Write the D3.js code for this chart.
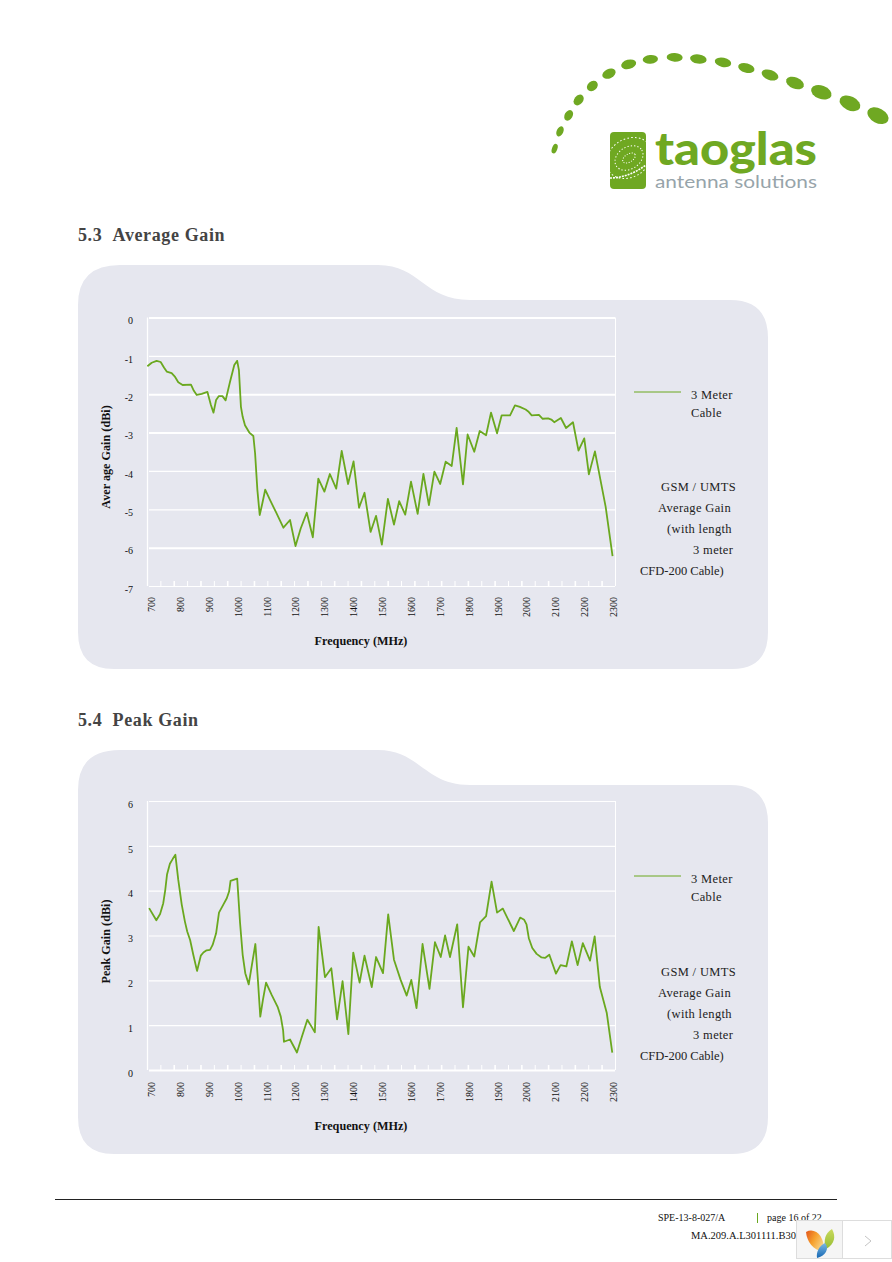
<!DOCTYPE html>
<html>
<head>
<meta charset="utf-8">
<title>Average and Peak Gain</title>
<script src="https://cdnjs.cloudflare.com/ajax/libs/d3/7.8.5/d3.min.js"></script>
<style>
    html, body { margin: 0; padding: 0; background: #fff; }
    svg { display: block; }
    text { font-family: "Liberation Serif", serif; fill: #111; }
    .tick text { font-size: 10px; }
    .legend text { font-size: 12.5px; letter-spacing: .35px; fill: #222; }
    .axis-title { font-size: 12.2px; font-weight: bold; }
    .heading { font-size: 18px; font-weight: bold; fill: #444; letter-spacing: .62px; }
    .foot { font-size: 10px; fill: #111; }
</style>
</head>
<body>
<script>
// x labels, same for both charts
var freqLabels = [700, 800, 900, 1000, 1100, 1200, 1300, 1400, 1500, 1600, 1700, 1800, 1900, 2000, 2100, 2200, 2300];
var avgTicks = [0, -1, -2, -3, -4, -5, -6, -7];
var peakTicks = [0, 1, 2, 3, 4, 5, 6];

// average gain
var avgFreq = [684, 699, 716, 730, 742, 751, 768, 780, 791, 806, 835, 845, 855, 872, 892, 904, 913, 922, 931, 944, 955, 970, 985, 995, 1001, 1008, 1014, 1022, 1037, 1051, 1057, 1065, 1073, 1082, 1092, 1109, 1129, 1155, 1178, 1197, 1215, 1236, 1257, 1276, 1297, 1316, 1338, 1357, 1379, 1398, 1417, 1436, 1457, 1476, 1496, 1517, 1538, 1556, 1577, 1597, 1620, 1640, 1659, 1678, 1698, 1717, 1738, 1755, 1777, 1793, 1816, 1835, 1857, 1874, 1895, 1911, 1940, 1957, 1974, 1994, 2003, 2015, 2040, 2053, 2072, 2083, 2093, 2116, 2134, 2158, 2177, 2197, 2213, 2234, 2271, 2295];
var avgGain = [-1.27, -1.18, -1.13, -1.16, -1.31, -1.41, -1.45, -1.55, -1.69, -1.76, -1.75, -1.91, -2.02, -1.99, -1.94, -2.28, -2.48, -2.15, -2.05, -2.05, -2.16, -1.68, -1.24, -1.13, -1.37, -2.33, -2.59, -2.81, -3.00, -3.09, -3.54, -4.50, -5.15, -4.85, -4.49, -4.76, -5.07, -5.48, -5.28, -5.96, -5.50, -5.09, -5.73, -4.20, -4.54, -4.08, -4.46, -3.48, -4.34, -3.75, -4.96, -4.57, -5.59, -5.17, -5.92, -4.73, -5.40, -4.79, -5.14, -4.28, -5.12, -4.08, -4.89, -4.02, -4.34, -3.76, -3.87, -2.88, -4.35, -3.05, -3.50, -2.96, -3.07, -2.48, -3.02, -2.55, -2.55, -2.29, -2.33, -2.40, -2.45, -2.55, -2.54, -2.64, -2.63, -2.66, -2.73, -2.62, -2.88, -2.73, -3.47, -3.15, -4.09, -3.49, -4.93, -6.22];

// peak gain
var peakFreq = [690, 715, 728, 739, 746, 752, 762, 772, 781, 791, 803, 814, 822, 832, 843, 856, 869, 878, 889, 901, 910, 922, 932, 947, 959, 967, 972, 995, 1005, 1014, 1023, 1035, 1049, 1058, 1066, 1075, 1084, 1095, 1114, 1135, 1146, 1154, 1157, 1178, 1202, 1219, 1238, 1254, 1264, 1277, 1299, 1321, 1341, 1360, 1380, 1397, 1419, 1436, 1461, 1476, 1500, 1518, 1538, 1561, 1582, 1598, 1616, 1637, 1661, 1680, 1700, 1715, 1732, 1757, 1777, 1796, 1816, 1836, 1857, 1876, 1895, 1915, 1953, 1975, 1989, 1997, 2005, 2017, 2032, 2049, 2061, 2076, 2099, 2115, 2135, 2154, 2174, 2192, 2217, 2233, 2251, 2275, 2294];
var peakGain = [3.61, 3.34, 3.48, 3.72, 4.02, 4.36, 4.60, 4.71, 4.80, 4.24, 3.69, 3.31, 3.09, 2.90, 2.57, 2.21, 2.55, 2.62, 2.67, 2.68, 2.79, 3.05, 3.51, 3.69, 3.83, 3.98, 4.22, 4.27, 3.28, 2.57, 2.16, 1.91, 2.46, 2.81, 2.08, 1.19, 1.56, 1.95, 1.68, 1.41, 1.19, 0.89, 0.63, 0.68, 0.39, 0.74, 1.12, 0.95, 0.84, 3.19, 2.07, 2.27, 1.13, 1.98, 0.80, 2.62, 1.95, 2.55, 1.85, 2.52, 2.16, 3.47, 2.46, 2.01, 1.66, 2.01, 1.38, 2.81, 1.81, 2.85, 2.52, 3.00, 2.52, 3.25, 1.40, 2.75, 2.53, 3.29, 3.43, 4.20, 3.51, 3.60, 3.10, 3.40, 3.35, 3.25, 2.94, 2.72, 2.59, 2.51, 2.50, 2.57, 2.15, 2.34, 2.31, 2.87, 2.34, 2.83, 2.44, 2.98, 1.85, 1.27, 0.39];

var legendNote = ["GSM / UMTS", "Average Gain", "(with length", "3 meter", "CFD-200 Cable)"];

var green = "#6aa81f";
var panelFill = "#e6e7ef";

var svg = d3.select("body").append("svg")
    .attr("width", 892)
    .attr("height", 1262);

var defs = svg.append("defs");

function grad(id, stops, x2, y2) {
    var g = defs.append("linearGradient").attr("id", id)
        .attr("x1", 0).attr("y1", 0).attr("x2", x2).attr("y2", y2);
    stops.forEach(function (s, i) {
        g.append("stop").attr("offset", i / (stops.length - 1)).attr("stop-color", s);
    });
}
grad("petalOrange", ["#e2551c", "#f6a02c", "#f8d58a"], 1, 0.6);
grad("petalGreen", ["#c9d95c", "#96bd34"], 0, 1);
grad("petalBlue", ["#7cb8e4", "#1668b4"], 0, 1);

// ---- logo
var logoDots = [[44, 326, 8, 15, 20], [60, 274, 10, 16, 25], [86, 226, 12, 17, 30], [116, 180, 13, 18, 40],
    [157, 138, 18, 14, -40], [207, 101, 21, 14, -25], [266, 73, 23, 14, -15], [331, 58, 23, 13, -5],
    [404, 52, 24, 13, 3], [475, 57, 25, 14, 8], [549, 67, 25, 14, 12], [619, 84, 25, 14, 15],
    [690, 105, 26, 15, 20], [765, 129, 28, 17, 22], [844, 157, 32, 20, 20], [930, 190, 33, 21, 25], [1014, 227, 34, 22, 28]];

var logo = svg.append("g").attr("class", "logo");
logo.selectAll("ellipse.dot")
    .data(logoDots)
    .enter().append("ellipse")
    .attr("class", "dot")
    .attr("rx", function (d) { return d[2] / 3; })
    .attr("ry", function (d) { return d[3] / 3; })
    .attr("transform", function (d) { return "translate(" + (540 + d[0] / 3) + "," + (40 + d[1] / 3) + ") rotate(" + d[4] + ")"; })
    .attr("fill", "#6fa822");

logo.append("rect").attr("x", 610).attr("y", 132).attr("width", 36).attr("height", 57).attr("rx", 4).attr("fill", "#6fa822");
[[24, 19, "1.6 2.2"], [15, 11, "1.3 2"], [7, 4, "1 1.6"]].forEach(function (e) {
    logo.append("ellipse")
        .attr("transform", "translate(629,158) rotate(-32)")
        .attr("rx", e[0]).attr("ry", e[1])
        .attr("fill", "none").attr("stroke", "#fff").attr("stroke-width", 1).attr("stroke-dasharray", e[2]);
});
logo.append("path").attr("d", "M610,178 Q628,178 646,165")
    .attr("fill", "none").attr("stroke", "#fff").attr("stroke-width", 1.6).attr("stroke-dasharray", "2 1");
logo.append("text").attr("x", 655).attr("y", 165)
    .attr("textLength", 162).attr("lengthAdjust", "spacingAndGlyphs")
    .style("font-family", "Lato, sans-serif").style("font-weight", 900).style("font-size", "45px").style("fill", "#6fa822")
    .text("taoglas");
logo.append("text").attr("x", 655).attr("y", 188)
    .attr("textLength", 162).attr("lengthAdjust", "spacingAndGlyphs")
    .style("font-family", "Lato, sans-serif").style("font-size", "17px").style("fill", "#97a4aa")
    .text("antenna solutions");

// ---- one panel with its chart
function drawChart(top, cfg) {
    var g = svg.append("g").attr("transform", "translate(0," + top + ")");

    // the panel shape with the raised tab
    g.append("path")
        .attr("d", "M78,305 Q78,265 120,265 H378 C420,265 424,300 470,300 H730 Q768,300 768,338 V632 Q768,669 732,669 H114 Q78,669 78,632 Z")
        .attr("fill", panelFill);

    g.append("text").attr("class", "heading").attr("x", 78).attr("y", cfg.headingY).text(cfg.heading);

    var x = d3.scaleLinear().domain([700, 2300]).range([152, 614]);
    var y = d3.scaleLinear().domain(cfg.yDomain).range([cfg.plotTop, cfg.plotBottom]);

    // y axis, ticks are the grid lines
    var yAxis = d3.axisLeft(y)
        .tickValues(cfg.yTicks)
        .tickSize(-466)
        .tickPadding(16)
        .tickFormat(function (d) { return String(d); });

    var yG = g.append("g")
        .attr("transform", "translate(149,0)")
        .call(yAxis);
    yG.select(".domain").remove();
    yG.selectAll(".tick line")
        .attr("stroke", "#fff")
        .attr("stroke-width", function (d) { return cfg.gridWidth(d); });
    yG.selectAll(".tick text").attr("dy", "0.62em").style("fill", "#111");

    // frame left and right
    g.append("line").attr("x1", 147.5).attr("x2", 147.5).attr("y1", cfg.plotTop).attr("y2", cfg.plotBottom).attr("stroke", "#fff").attr("stroke-width", 1.3);
    g.append("line").attr("x1", 615.5).attr("x2", 615.5).attr("y1", cfg.plotTop).attr("y2", cfg.plotBottom).attr("stroke", "#fff").attr("stroke-width", 1);

    // small ticks on the bottom, spacing does not follow the labels
    g.append("g").selectAll("line")
        .data(d3.range(1, 35))
        .enter().append("line")
        .attr("x1", function (i) { return 147.5 + i * 13.37; })
        .attr("x2", function (i) { return 147.5 + i * 13.37; })
        .attr("y1", cfg.plotBottom - 5).attr("y2", cfg.plotBottom)
        .attr("stroke", "#fff")
        .attr("stroke-width", function (i) { return i % 2 ? 1 : 1.6; });

    // x labels
    g.append("g").attr("class", "tick").selectAll("text")
        .data(freqLabels)
        .enter().append("text")
        .attr("transform", function (d) { return "translate(" + (x(d) + 3) + ",597) rotate(-90)"; })
        .attr("text-anchor", "end")
        .text(function (d) { return d; });

    // the curve
    var line = d3.line()
        .x(function (d) { return x(d[0]); })
        .y(function (d) { return y(d[1]); });

    g.append("path")
        .datum(d3.zip(cfg.freq, cfg.gain))
        .attr("d", line)
        .attr("fill", "none")
        .attr("stroke", green)
        .attr("stroke-width", 1.8)
        .attr("stroke-linejoin", "round");

    // axis titles
    g.append("text").attr("class", "axis-title")
        .attr("transform", "translate(110," + cfg.yTitleAt + ") rotate(-90)")
        .attr("text-anchor", "middle")
        .text(cfg.yTitle);
    g.append("text").attr("class", "axis-title")
        .attr("x", 361).attr("y", 645)
        .attr("text-anchor", "middle")
        .text("Frequency (MHz)");

    // legend
    var lg = g.append("g").attr("class", "legend");
    lg.append("line").attr("x1", 634).attr("x2", 681).attr("y1", cfg.legendY).attr("y2", cfg.legendY).attr("stroke", green).attr("stroke-width", 1);
    lg.append("text").attr("x", 691).attr("y", cfg.legendY + 7).text("3 Meter");
    lg.append("text").attr("x", 691).attr("y", cfg.legendY + 25).text("Cable");

    var noteX = [661, 658, 667, 693, 640];
    lg.selectAll("text.note")
        .data(legendNote)
        .enter().append("text")
        .attr("class", "note")
        .attr("x", function (d, i) { return noteX[i]; })
        .attr("y", function (d, i) { return 491 + i * 21; })
        .style("letter-spacing", function (d, i) { return i === 4 ? "0" : null; })
        .text(function (d) { return d; });
}

drawChart(0, {
    heading: "5.3\u00a0\u00a0Average Gain", headingY: 241,
    yDomain: [0, -7], yTicks: avgTicks, plotTop: 317.5, plotBottom: 586,
    gridWidth: function (d) { return (d === 0 || d === -2 || d === -3 || d === -6) ? 2 : 1.2; },
    freq: avgFreq, gain: avgGain,
    yTitle: "Aver age Gain (dBi)", yTitleAt: 457,
    legendY: 392
});

drawChart(485, {
    heading: "5.4\u00a0\u00a0Peak Gain", headingY: 241,
    yDomain: [6, 0], yTicks: peakTicks, plotTop: 316, plotBottom: 585,
    gridWidth: function (d) { return d === 0 ? 2 : 1.2; },
    freq: peakFreq, gain: peakGain,
    yTitle: "Peak Gain (dBi)", yTitleAt: 456.5,
    legendY: 391
});

// ---- footer
svg.append("line").attr("x1", 55).attr("x2", 837).attr("y1", 1199.5).attr("y2", 1199.5).attr("stroke", "#222").attr("stroke-width", 1);
svg.append("text").attr("class", "foot").attr("x", 658).attr("y", 1221).text("SPE-13-8-027/A");
svg.append("line").attr("x1", 757.5).attr("x2", 757.5).attr("y1", 1213).attr("y2", 1223).attr("stroke", green).attr("stroke-width", 1);
svg.append("text").attr("class", "foot").attr("x", 767).attr("y", 1221).text("page 16 of 22");
svg.append("text").attr("class", "foot").attr("x", 691).attr("y", 1239).style("font-size", "10.5px").text("MA.209.A.L301111.B301");

// ---- widget sitting in the corner
var w = svg.append("g");
w.append("rect").attr("x", 796.5).attr("y", 1220.5).attr("width", 46).attr("height", 38).attr("fill", "#f5f5f5").attr("stroke", "#ddd");
w.append("rect").attr("x", 842.5).attr("y", 1220.5).attr("width", 49).attr("height", 38).attr("fill", "#fff").attr("stroke", "#ddd");
w.append("path").attr("d", "M806,1232 C815,1227 825,1236 824,1252 C813,1250 807,1242 806,1232 Z").attr("fill", "url(#petalOrange)");
w.append("path").attr("d", "M832,1229 C836,1236 835,1244 826,1249 C823,1241 825,1233 832,1229 Z").attr("fill", "url(#petalGreen)");
w.append("path").attr("d", "M825,1243 C830,1249 825,1256 817,1258 C816,1252 819,1246 825,1243 Z").attr("fill", "url(#petalBlue)");
w.append("path").attr("d", "M865,1236 L871,1241 L865,1246").attr("fill", "none").attr("stroke", "#c4c4c4").attr("stroke-width", 1);
</script>
</body>
</html>
